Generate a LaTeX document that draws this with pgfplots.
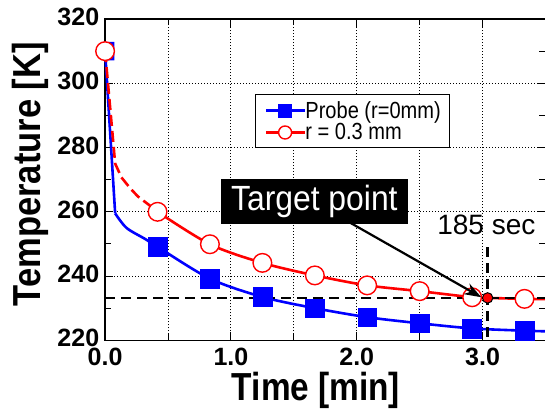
\documentclass[border=0pt]{standalone}
\usepackage{pgfplots}
\pgfplotsset{compat=1.18}
\usepackage{graphicx}
\usepackage{fontspec}
\setmainfont{Liberation Sans}
\newfontfamily\narrowfont[FakeStretch=0.86]{Liberation Sans}
\newfontfamily\tpfont[FakeStretch=0.91]{Liberation Sans}
\usetikzlibrary{arrows.meta}
\definecolor{pblue}{RGB}{0,0,255}
\definecolor{pred}{RGB}{255,0,0}
\begin{document}
\begin{tikzpicture}
\path[use as bounding box] (-105bp,-74bp) rectangle (439.5bp,340bp);
\begin{axis}[
  scale only axis, width=440bp, height=321bp,
  xmin=0, xmax=3.5, ymin=220, ymax=320,
  clip=false,
  axis line style={line width=1.2bp},
  xtick={0,1,2,3}, xticklabels={0.0,1.0,2.0,3.0},
  minor xtick={0.5,1.5,2.5},
  ytick={220,240,260,280,300,320}, yticklabels={220,240,260,280,300,320},
  minor ytick={230,250,270,290,310},
  xmajorgrids, xminorgrids, ymajorgrids,
  major grid style={black, line width=0.9bp, dash pattern=on 1bp off 2bp},
  minor grid style={black, line width=0.9bp, dash pattern=on 1bp off 2bp},
  major tick length=8bp, minor tick length=6bp,
  tick style={black, line width=1bp},
  ticklabel style={font=\bfseries\fontsize{25bp}{25bp}\selectfont, inner sep=0pt},
  xticklabel style={yshift=-7.5bp},
  yticklabel style={xshift=-5.7bp, yshift=2bp},
  xlabel={\resizebox{168bp}{28.3bp}{Time [min]}},
  ylabel={\resizebox{264bp}{28.3bp}{Temperature [K]}},
  xlabel style={at={(rel axis cs:0.479,-0.187)}, anchor=base, inner sep=0pt, font=\bfseries\fontsize{39.5bp}{40bp}\selectfont},
  ylabel style={at={(rel axis cs:-0.1477,0.517)}, anchor=base, inner sep=0pt, font=\bfseries\fontsize{39.5bp}{40bp}\selectfont},
  legend style={at={(rel axis cs:0.341,0.766)}, anchor=north west, draw=black, line width=1bp, fill=white,
    inner xsep=9bp, inner ysep=6.5bp, row sep=4bp, nodes={inner sep=0pt},
    font=\narrowfont\fontsize{23.3bp}{24bp}\selectfont,
    /tikz/every even column/.append style={column sep=5bp}},
  legend cell align=left,
  legend image code/.code={\draw[#1, mark indices={2}, mark size=6.5bp] plot coordinates {(13bp,0bp) (32bp,0bp) (51bp,0bp)};},
]
% blue steep initial segment
\addplot[pblue, line width=2.6bp, forget plot] coordinates {(0,310) (0.08,259.5)};
% red dashed initial segment
\addplot[pred, line width=2.6bp, dash pattern=on 11bp off 5bp, forget plot] coordinates {(0,310) (0.08,275) (0.13,270.7) (0.2,267.3) (0.26,264.8) (0.36,261.8) (0.417,260)};
% blue marker at t=0 (clipped at the axis, right half)
\addplot[fill=pblue, draw=none, forget plot] coordinates {(0,307.1) (0.073,307.1) (0.073,312.9) (0,312.9) (0,307.1)};
% blue main
\addplot[pblue, line width=2.6bp, smooth, tension=0.5, mark=square*, mark size=9.4bp, mark indices={4,5,6,7,8,9,10,11},
  mark options={solid, fill=pblue, draw=pblue, line width=0.5bp}]
  coordinates {(0.08,259.5) (0.17,255) (0.32,251.5) (0.417,249.1) (0.833,239.2) (1.25,233.5) (1.667,230.0) (2.083,227.2) (2.5,225.3) (2.917,223.7) (3.333,223.0) (3.5,222.8)};
\addlegendentry{Probe (r=0mm)}
% red main
\addplot[pred, line width=2.6bp, smooth, tension=0.5, mark=*, mark size=9.3bp, mark indices={1,2,3,4,5,6,7,9},
  mark options={solid, fill=white, draw=pred, line width=1.4bp}]
  coordinates {(0.417,260) (0.833,249.9) (1.25,244.1) (1.667,240.2) (2.083,237.1) (2.5,235.3) (2.917,233.4) (3.04,233.2) (3.333,232.9) (3.5,232.8)};
\addlegendentry{r = 0.3 mm}
% red marker at t=0
\addplot[only marks, mark=*, mark size=9.3bp, mark options={fill=white, draw=pred, line width=1.4bp}, forget plot] coordinates {(0,310)};
% dashed guide lines
\addplot[black, line width=2.3bp, dash pattern=on 10bp off 6bp, forget plot] coordinates {(0,233.2) (3.5,233.2)};
\addplot[black, line width=2.3bp, dash pattern=on 10bp off 6bp, forget plot] coordinates {(3.04,249) (3.04,220)};
\coordinate (A) at (axis cs:1.88,258.1);
\coordinate (B) at (axis cs:2.99,233.4);
\coordinate (C) at (axis cs:1.663,263.1);
\coordinate (D) at (axis cs:3.03,255.8);
\end{axis}
\draw[black, line width=2.2bp, -{Stealth[length=17bp,width=12bp]}] (A) -- (B);
\begin{axis}[
  scale only axis, width=440bp, height=321bp,
  xmin=0, xmax=3.5, ymin=220, ymax=320,
  clip=false, hide axis]
\addplot[only marks, mark=*, mark size=5.2bp, mark options={fill=pred, draw=black, line width=1bp}, forget plot] coordinates {(3.04,233.2)};
\end{axis}
\node[fill=black, text=white, minimum width=186.6bp, minimum height=45bp, inner sep=0pt, font=\tpfont\fontsize{35bp}{36bp}\selectfont] at (C) {Target point};
\node[inner sep=0pt, font=\fontsize{28bp}{29bp}\selectfont] at (D) {185 sec};
\end{tikzpicture}
\end{document}
